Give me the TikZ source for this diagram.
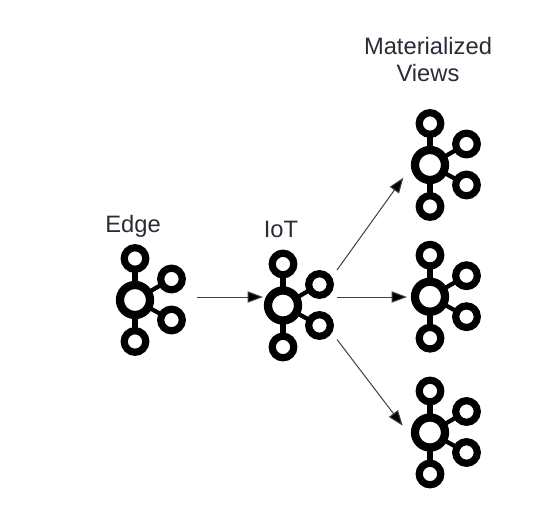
\documentclass[tikz,border=0pt]{standalone}
\usepackage{fontspec}
\setmainfont{Liberation Sans}
\usetikzlibrary{arrows.meta}
\definecolor{labelink}{HTML}{2B2B38}
\tikzset{
  x=0.75pt,y=-0.75pt,
  label text/.style={text=labelink,font=\fontsize{17.8pt}{20.2pt}\selectfont,align=center,inner sep=0pt},
  flow/.style={line width=0.75pt,draw=black!75,-{Triangle[length=11.5pt,width=8.4pt,fill=black]}},
  hubring/.style={line width=6.2pt,draw=black},
  leafring/.style={line width=5.4pt,draw=black},
  spine/.style={line width=4.8pt,draw=black},
  branch/.style={line width=3.2pt,draw=black},
  pics/hub/.style={code={
    \draw[spine] (0,0) -- (0,-41.5);
    \draw[spine] (0,0) -- (0,41.5);
    \draw[branch] (0,0) -- (36.5,-21);
    \draw[branch] (0,0) -- (36.5,20);
    \draw[hubring,fill=white] (0,0) circle (15);
    \draw[leafring,fill=white] (0,-41.5) circle (10.8);
    \draw[leafring,fill=white] (0,41.5) circle (10.8);
    \draw[leafring,fill=white] (36.5,-21) circle (10.8);
    \draw[leafring,fill=white] (36.5,20) circle (10.8);
  }}
}
\begin{document}
\begin{tikzpicture}
\useasboundingbox (0,0) rectangle (554,518);
\pic at (135,300) {hub};
\pic at (283,305.5) {hub};
\pic at (430,165) {hub};
\pic at (430,296.7) {hub};
\pic at (430,432.5) {hub};
\node[label text] (edgelabel) at (133,226) {Edge};
\node[label text] (iotlabel) at (281,229.5) {IoT};
\node[label text] (viewslabel) at (428,59.5) {Materialized\\Views};
\coordinate (edgeout) at (197,297);
\coordinate (iotin) at (263,297);
\coordinate (iotout) at (337,297);
\coordinate (iotup) at (337,270);
\coordinate (iotdown) at (337,339.5);
\coordinate (viewtop) at (403.3,177.7);
\coordinate (viewmid) at (407,297);
\coordinate (viewbot) at (402.7,425.7);
\draw[flow] (edgeout) -- (iotin);
\draw[flow] (iotout) -- (viewmid);
\draw[flow] (iotup) -- (viewtop);
\draw[flow] (iotdown) -- (viewbot);
\end{tikzpicture}
\end{document}
